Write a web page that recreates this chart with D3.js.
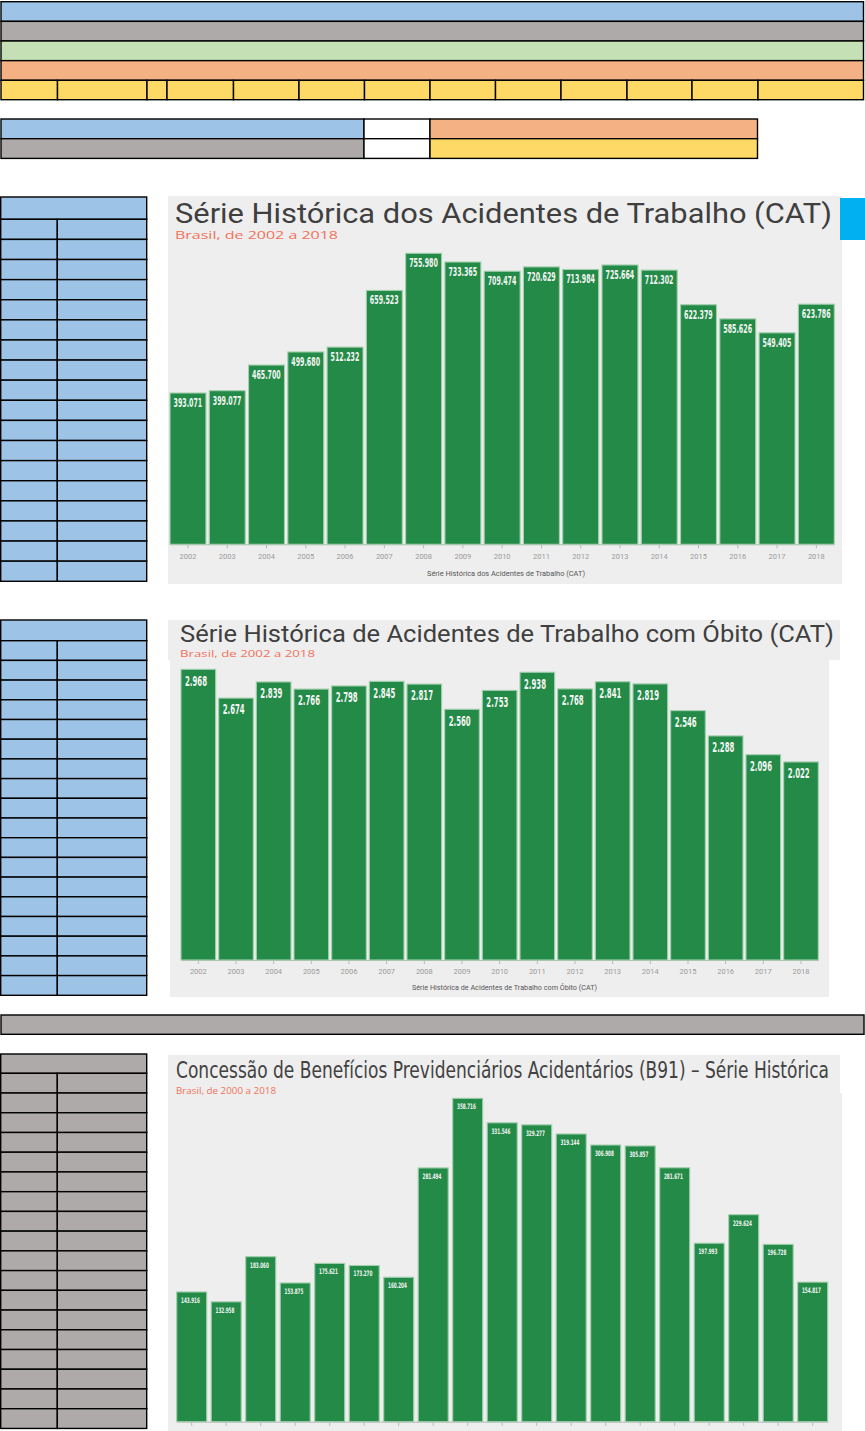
<!DOCTYPE html>
<html>
<head>
    <meta charset="utf-8">
    <script src="https://cdn.jsdelivr.net/npm/d3@7/dist/d3.min.js"></script>
    <style>
        body {
            margin: 0;
            background: #fff;
        }

        svg {
            display: block;
        }

        .titulo {
            font-family: Roboto, 'Noto Sans', sans-serif;
            font-weight: 400;
            fill: #3f3f3f;
        }

        .titulo-estreito {
            font-family: 'Liberation Sans Narrow', 'DejaVu Sans Condensed', Roboto, sans-serif;
            fill: #424242;
        }

        .subtitulo {
            font-family: 'Open Sans', 'Noto Sans', sans-serif;
            font-weight: 400;
            fill: #f1715a;
        }

        .valor {
            font-family: 'Liberation Sans Narrow', 'DejaVu Sans Condensed', Roboto, sans-serif;
            font-weight: bold;
            fill: #f4f4f4;
        }

        .eixo text {
            font-family: Roboto, sans-serif;
            fill: #9a9a9a;
        }

        .eixo line,
        .eixo path {
            stroke: #b8b8b8;
        }

        .eixo-titulo {
            font-family: Roboto, sans-serif;
            fill: #555;
        }
    </style>
</head>

<body>
    <svg id="planilha" width="865" height="1431"></svg>
    <script>
        //dados
        const anosCAT = ["2002", "2003", "2004", "2005", "2006", "2007", "2008", "2009", "2010",
            "2011", "2012", "2013", "2014", "2015", "2016", "2017", "2018"];
        const acidentesCAT = [393071, 399077, 465700, 499680, 512232, 659523, 755980, 733365, 709474,
            720629, 713984, 725664, 712302, 622379, 585626, 549405, 623786];
        const obitosCAT = [2968, 2674, 2839, 2766, 2798, 2845, 2817, 2560, 2753,
            2938, 2768, 2841, 2819, 2546, 2288, 2096, 2022];
        const anosB91 = ["2000", "2001", "2002", "2003", "2004", "2005", "2006", "2007", "2008", "2009",
            "2010", "2011", "2012", "2013", "2014", "2015", "2016", "2017", "2018"];
        const beneficiosB91 = [143916, 132958, 183060, 153875, 175621, 173270, 160204, 281494, 358716, 331546,
            329277, 319144, 306908, 305857, 281671, 197993, 229624, 196728, 154817];

        const br = d3.formatLocale({ decimal: ",", thousands: ".", grouping: [3], currency: ["R$", ""] });
        const fmt = br.format(",d");

        let svg = d3.select("#planilha");

        const azul = "#9dc3e6", cinza = "#aeaaaa", verde = "#c5e0b4", laranja = "#f4b183", amarelo = "#ffd966";
        const borda = "#000";

        function cell(x, y, w, h, fill) {
            svg.append("rect")
                .attr("x", x).attr("y", y)
                .attr("width", w).attr("height", h)
                .attr("fill", fill)
                .attr("stroke", borda)
                .attr("stroke-width", 1.4);
        }

        //faixas do topo
        [azul, cinza, verde, laranja].forEach((c, i) => cell(1, 1.7 + i * 19.65, 862.5, 19.65, c));
        let cortes = [1, 57.5, 147, 167, 233.5, 299, 364.5, 430, 495.5, 561, 627, 692, 758, 863.5];
        for (let i = 0; i < cortes.length - 1; i++) {
            cell(cortes[i], 80.3, cortes[i + 1] - cortes[i], 19.4, amarelo);
        }

        //legenda
        cell(1, 119, 363, 19.7, azul);
        cell(364, 119, 66, 19.7, "#fff");
        cell(430, 119, 327.5, 19.7, laranja);
        cell(1, 138.7, 363, 19.7, cinza);
        cell(364, 138.7, 66, 19.7, "#fff");
        cell(430, 138.7, 327.5, 19.7, amarelo);

        //tabelas laterais
        function tabela(y0, headH, rowH, n, fill) {
            cell(0.7, y0, 146, headH, fill);
            for (let i = 0; i < n; i++) {
                let y = y0 + headH + i * rowH;
                cell(0.7, y, 56.6, rowH, fill);
                cell(57.3, y, 89.4, rowH, fill);
            }
        }
        tabela(197, 22.3, 20.11, 18, azul);
        tabela(620, 20.7, 19.7, 18, azul);
        tabela(1054, 19.3, 19.73, 18, cinza);

        //faixa cinza
        cell(1, 1015, 863, 19.3, cinza);

        //fundos dos graficos
        svg.append("rect").attr("x", 168).attr("y", 196).attr("width", 674).attr("height", 388).attr("fill", "#eeeeee");
        svg.append("rect").attr("x", 840).attr("y", 198).attr("width", 25).attr("height", 42).attr("fill", "#00b0f0");
        svg.append("rect").attr("x", 168).attr("y", 620).attr("width", 672).attr("height", 40).attr("fill", "#eeeeee");
        svg.append("rect").attr("x", 170).attr("y", 660).attr("width", 659).attr("height", 337).attr("fill", "#eeeeee");
        svg.append("rect").attr("x", 168).attr("y", 1055).attr("width", 672).attr("height", 38).attr("fill", "#eeeeee");
        svg.append("rect").attr("x", 168).attr("y", 1093).attr("width", 674).attr("height", 338).attr("fill", "#eeeeee");

        function texto(cls, str, x, y, size, len) {
            svg.append("text")
                .attr("class", cls)
                .attr("x", x).attr("y", y)
                .attr("font-size", size)
                .attr("textLength", len)
                .attr("lengthAdjust", "spacingAndGlyphs")
                .text(str);
        }

        //titulos
        texto("titulo", "Série Histórica dos Acidentes de Trabalho (CAT)", 175, 223, 27.5, 657);
        texto("subtitulo", "Brasil, de 2002 a 2018", 175, 238.5, 11, 163);
        texto("titulo", "Série Histórica de Acidentes de Trabalho com Óbito (CAT)", 180, 642, 23.5, 654);
        texto("subtitulo", "Brasil, de 2002 a 2018", 180, 656.5, 9.5, 135);
        texto("titulo-estreito", "Concessão de Benefícios Previdenciários Acidentários (B91) – Série Histórica", 176, 1078, 22.5, 653);
        texto("subtitulo", "Brasil, de 2000 a 2018", 176, 1094, 9, 100);

        //barras
        function barras(o) {
            let x = d3.scaleBand().domain(o.anos).range(o.xr).paddingInner(o.pad).paddingOuter(0);
            let y = d3.scaleLinear().domain([0, d3.max(o.valores)]).range([o.base, o.topo]);
            let dados = o.anos.map((a, i) => ({ ano: a, v: o.valores[i] }));

            let g = svg.append("g");
            g.append("g")
                .attr("class", "eixo")
                .attr("transform", `translate(0,${o.base})`)
                .call(d3.axisBottom(x).tickSize(4).tickSizeOuter(0).tickPadding(5))
                .selectAll("text").attr("font-size", o.tickFont);

            g.selectAll(".bar")
                .data(dados)
                .enter().append("rect")
                .attr("x", d => x(d.ano))
                .attr("y", d => y(d.v))
                .attr("width", x.bandwidth())
                .attr("height", d => o.base - y(d.v))
                .attr("fill", "#238b47")
                .attr("stroke", "#a3cfae")
                .attr("stroke-width", 1.1);

            g.selectAll(".valor")
                .data(dados)
                .enter().append("text")
                .attr("class", "valor")
                .attr("x", d => x(d.ano) + o.lx)
                .attr("y", d => y(d.v) + o.ly)
                .attr("font-size", o.vFont)
                .attr("textLength", d => fmt(d.v).length * o.charW)
                .attr("lengthAdjust", "spacingAndGlyphs")
                .text(d => fmt(d.v));
        }

        barras({ anos: anosCAT, valores: acidentesCAT, xr: [170, 834.3], pad: 0.085, base: 544.3, topo: 253.3,
            tickFont: 7.5, vFont: 11.5, lx: 3.5, ly: 14, charW: 4.1 });
        barras({ anos: anosCAT, valores: obitosCAT, xr: [181, 818.3], pad: 0.08, base: 960, topo: 669.3,
            tickFont: 7.5, vFont: 14.5, lx: 4, ly: 16.4, charW: 4.4 });
        barras({ anos: anosB91, valores: beneficiosB91, xr: [176.7, 827.7], pad: 0.13, base: 1421.7, topo: 1098.3,
            tickFont: 7.5, vFont: 7.5, lx: 4.3, ly: 11, charW: 2.7 });

        //titulos dos eixos
        texto("eixo-titulo", "Série Histórica dos Acidentes de Trabalho (CAT)", 427, 576, 7.5, 158);
        texto("eixo-titulo", "Série Histórica de Acidentes de Trabalho com Óbito (CAT)", 412, 990, 7.5, 185);
    </script>
</body>

</html>
